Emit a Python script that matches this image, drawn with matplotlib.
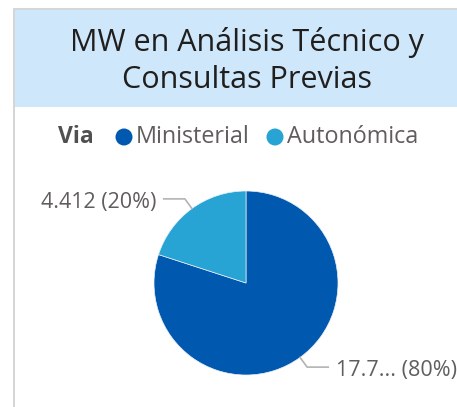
import matplotlib
matplotlib.use("Agg")
import matplotlib.pyplot as plt
from matplotlib.patches import Rectangle, Ellipse
import numpy as np

title = "MW en Análisis Técnico y\nConsultas Previas"
legend_title = "Via"
categories = ["Ministerial", "Autonómica"]
values = [17650, 4412]
value_labels = ["17.7...", "4.412"]
colors = ["#0058AF", "#27A3D4"]

W, H = 457, 407
fig = plt.figure(figsize=(W / 100, H / 100), dpi=100)
fig.patch.set_facecolor("white")

def fx(px):
    return px / W

def fy(py):
    return 1 - py / H

# frame borders
fig.patches.append(Rectangle((fx(13), 0), fx(2), fy(8), transform=fig.transFigure,
                             facecolor="#d6d6d6", edgecolor="none"))
fig.patches.append(Rectangle((fx(13), fy(10)), 1 - fx(13), fy(8) - fy(10), transform=fig.transFigure,
                             facecolor="#d6d6d6", edgecolor="none"))
# title band
fig.patches.append(Rectangle((fx(15), fy(107)), 1 - fx(15), fy(10) - fy(107), transform=fig.transFigure,
                             facecolor="#CFE7FA", edgecolor="none"))
fig.text(fx(247), fy(43), title.split("\n")[0], ha="center", va="center", fontsize=22,
         family="Open Sans", color="#201f1e")
fig.text(fx(247), fy(80), title.split("\n")[1], ha="center", va="center", fontsize=22,
         family="Open Sans", color="#201f1e")

# legend
lax = fig.add_axes([0, 0, 1, 1], facecolor="none")
lax.set_xlim(0, W)
lax.set_ylim(H, 0)
lax.set_axis_off()
ly = 137
lax.text(58, ly, legend_title, ha="left", va="center", fontsize=16.5, fontweight="bold",
         family="Open Sans", color="#505050")
lax.text(136, ly, categories[0], ha="left", va="center", fontsize=16.8,
         family="Open Sans", color="#605e5c")
lax.text(287, ly, categories[1], ha="left", va="center", fontsize=16.8,
         family="Open Sans", color="#605e5c")
lax.add_patch(Ellipse((124, ly), 17, 17, facecolor=colors[0], edgecolor="none"))
lax.add_patch(Ellipse((275, ly), 17, 17, facecolor=colors[1], edgecolor="none"))

# pie
cx, cy, r = 246, 283, 92
pax = fig.add_axes([fx(cx - r), fy(cy + r), 2 * r / W, 2 * r / H])
wedges, _ = pax.pie(values, colors=colors, startangle=90, counterclock=False,
                    wedgeprops=dict(linewidth=0.5, edgecolor="#e8f0f8"))
pax.set_xlim(-1, 1)
pax.set_ylim(-1, 1)
pax.set_aspect("auto")

total = sum(values)
for i, w in enumerate(wedges):
    ang = np.deg2rad((w.theta1 + w.theta2) / 2)
    x0, y0 = np.cos(ang), np.sin(ang)
    pct = round(values[i] / total * 100)
    label = f"{value_labels[i]} ({pct}%)"
    side = 1 if x0 > 0 else -1
    ex, ey = 1.0 * x0, 1.0 * y0
    kx, ky = 1.13 * x0, 1.13 * y0
    hx = kx + side * 0.23
    pax.plot([ex, kx, hx], [ey, ky, ky], color="#b3b3b3", lw=1.2, clip_on=False)
    pax.text(hx + side * 0.08, ky - 0.035, label, ha="left" if side > 0 else "right", va="center",
             fontsize=15.5, family="Open Sans", color="#605e5c", clip_on=False)

fig.savefig("out.png", dpi=100, facecolor="white")
